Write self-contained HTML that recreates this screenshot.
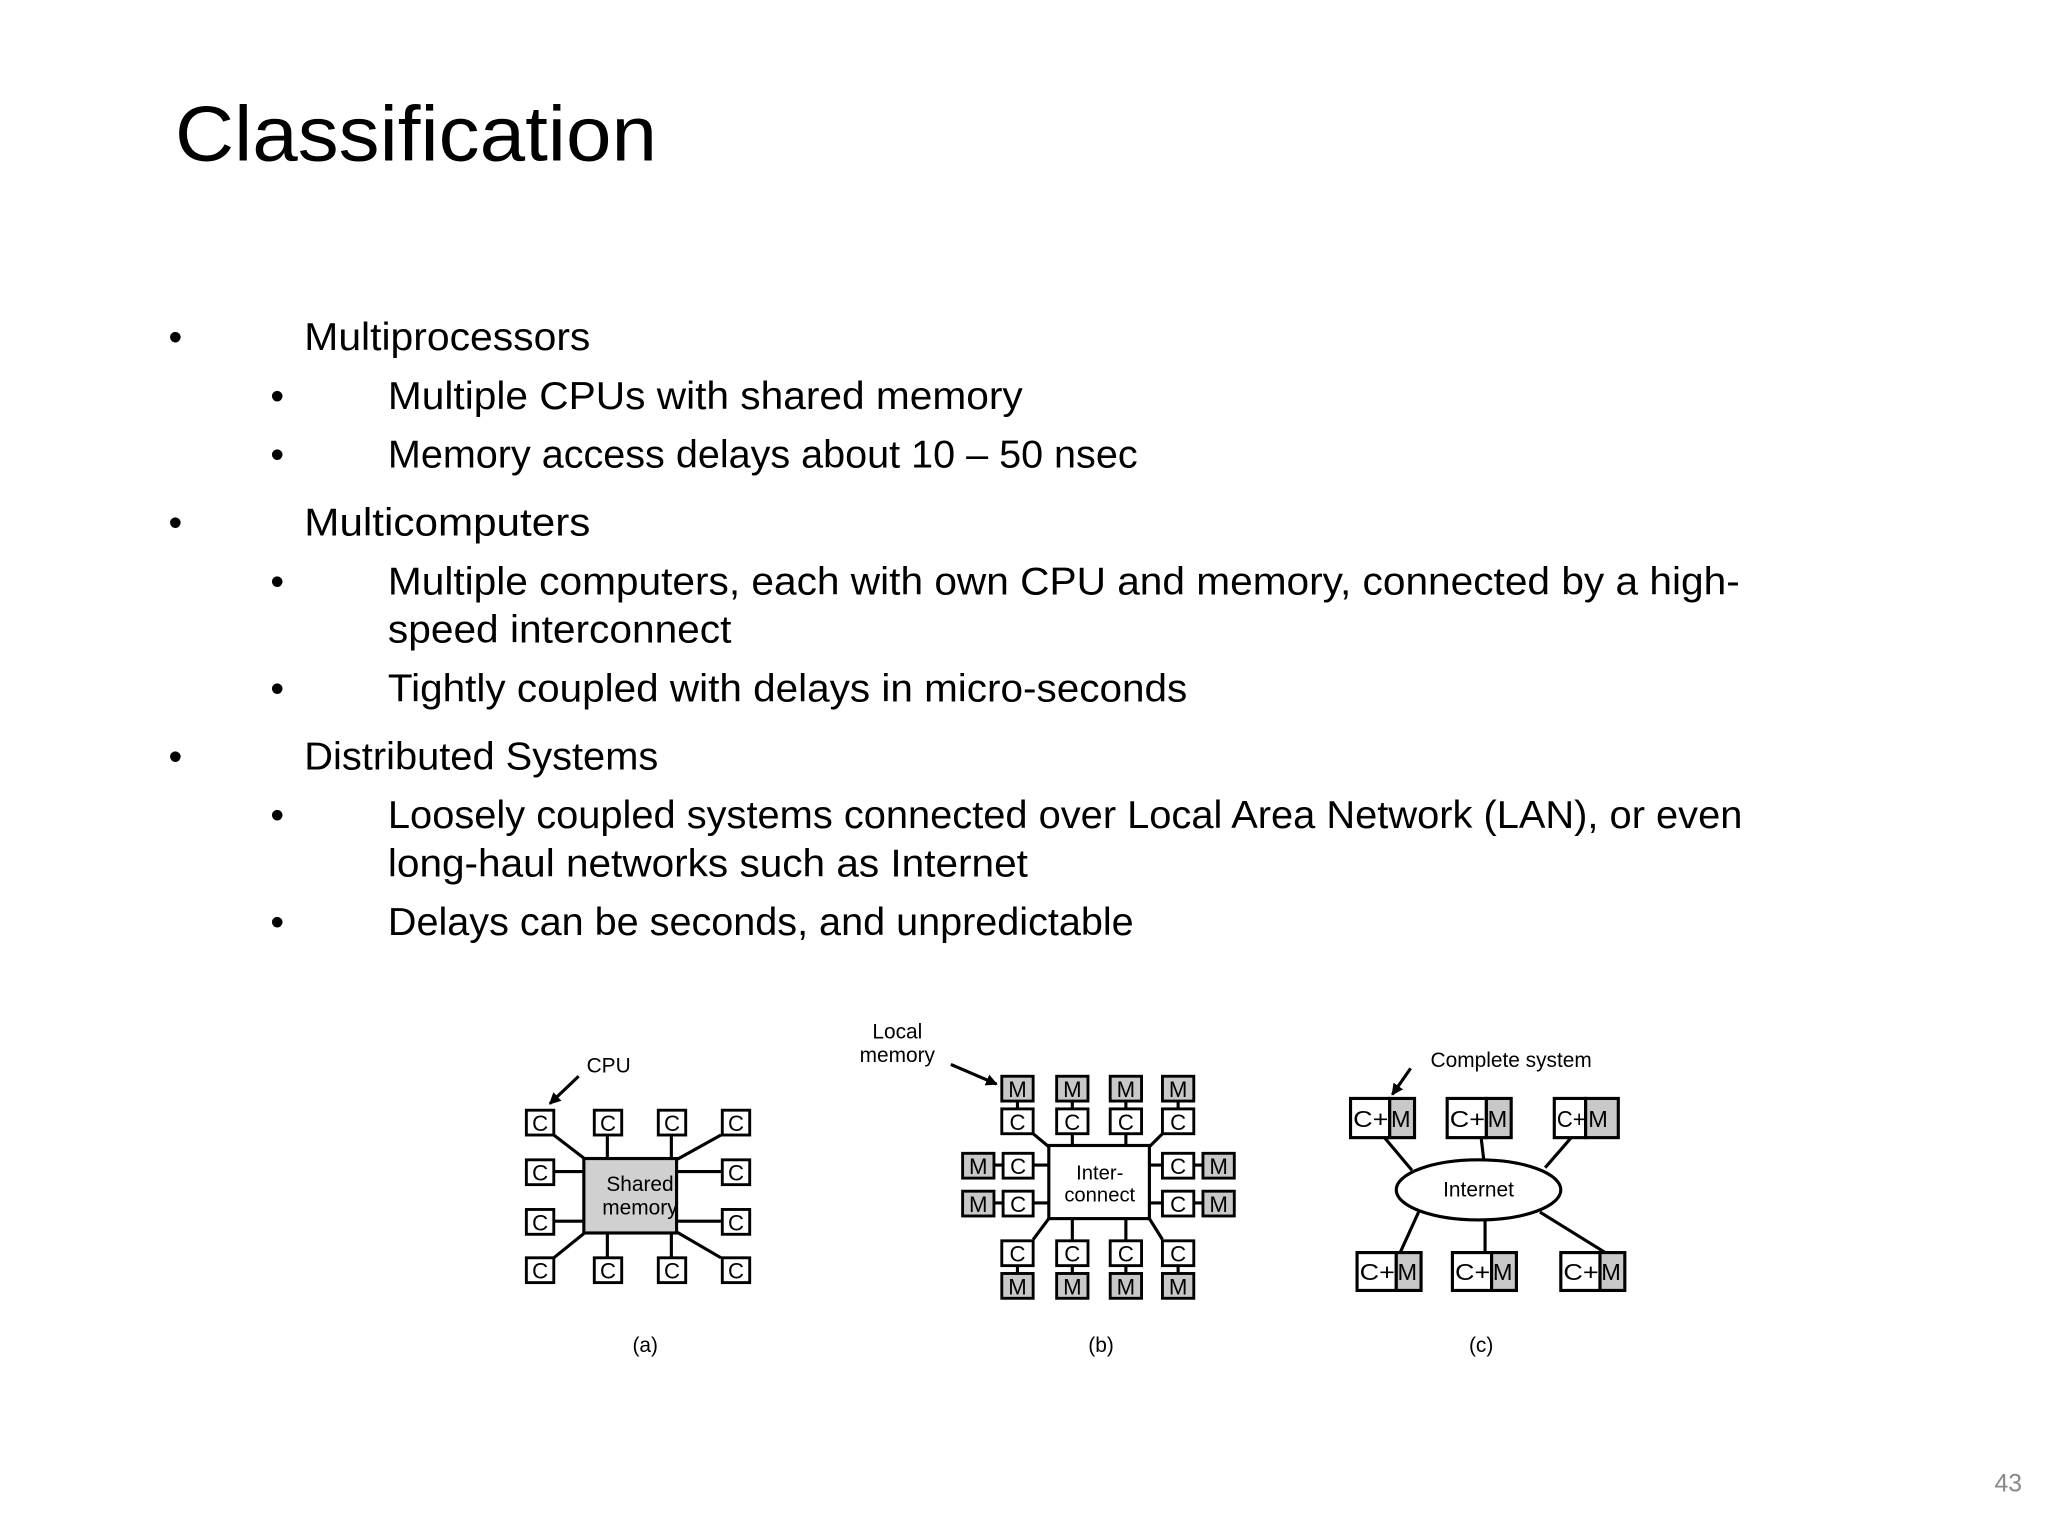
<!DOCTYPE html>
<html><head><meta charset="utf-8"><style>
html,body{margin:0;padding:0;background:#fff;}
svg{display:block;}
text{font-family:"Liberation Sans",sans-serif;}
</style></head><body>
<svg width="2048" height="1536" viewBox="0 0 1568 1176" xmlns="http://www.w3.org/2000/svg">
<rect width="1568" height="1176" fill="#fff"/>
<text x="134" y="123" font-size="60" textLength="369" lengthAdjust="spacingAndGlyphs" fill="#000">Classification</text>
<g font-size="30" fill="#000">
<text x="129" y="268">•</text><text x="233" y="268" textLength="219" lengthAdjust="spacingAndGlyphs">Multiprocessors</text>
<text x="207" y="313">•</text><text x="297" y="313" textLength="486" lengthAdjust="spacingAndGlyphs">Multiple CPUs with shared memory</text>
<text x="207" y="358">•</text><text x="297" y="358" textLength="574" lengthAdjust="spacingAndGlyphs">Memory access delays about 10 – 50 nsec</text>
<text x="129" y="410">•</text><text x="233" y="410" textLength="219" lengthAdjust="spacingAndGlyphs">Multicomputers</text>
<text x="207" y="455">•</text><text x="297" y="455" textLength="1035" lengthAdjust="spacingAndGlyphs">Multiple computers, each with own CPU and memory, connected by a high-</text>
<text x="297" y="492" textLength="263" lengthAdjust="spacingAndGlyphs">speed interconnect</text>
<text x="207" y="537">•</text><text x="297" y="537" textLength="612" lengthAdjust="spacingAndGlyphs">Tightly coupled with delays in micro-seconds</text>
<text x="129" y="589">•</text><text x="233" y="589" textLength="271" lengthAdjust="spacingAndGlyphs">Distributed Systems</text>
<text x="207" y="634">•</text><text x="297" y="634" textLength="1037" lengthAdjust="spacingAndGlyphs">Loosely coupled systems connected over Local Area Network (LAN), or even</text>
<text x="297" y="671" textLength="490" lengthAdjust="spacingAndGlyphs">long-haul networks such as Internet</text>
<text x="207" y="716">•</text><text x="297" y="716" textLength="571" lengthAdjust="spacingAndGlyphs">Delays can be seconds, and unpredictable</text>
</g>
<text x="1527" y="1142" font-size="19" fill="#888">43</text>

<defs><marker id="ah" markerWidth="9" markerHeight="9" refX="8" refY="4.5" orient="auto" markerUnits="userSpaceOnUse"><path d="M0,0 L9,4.5 L0,9 Z" fill="#000"/></marker></defs>

<!-- (a) -->
<g stroke="#000" stroke-width="2.4" fill="none">
<line x1="424" y1="869" x2="450" y2="889"/><line x1="465" y1="869" x2="465" y2="887"/><line x1="514" y1="869" x2="514" y2="887"/><line x1="552" y1="869" x2="516" y2="889"/>
<line x1="424" y1="897" x2="447" y2="897"/><line x1="424" y1="935" x2="447" y2="935"/>
<line x1="518" y1="897" x2="552" y2="897"/><line x1="518" y1="935" x2="552" y2="935"/>
<line x1="424" y1="963" x2="450" y2="942"/><line x1="465" y1="944" x2="465" y2="963"/><line x1="514" y1="944" x2="514" y2="963"/><line x1="552" y1="963" x2="516" y2="942"/>
<line x1="443" y1="824" x2="421" y2="845" marker-end="url(#ah)"/>
</g>
<rect x="447" y="887" width="71" height="57" fill="#d0d0d0" stroke="#000" stroke-width="2.4"/>
<g fill="#fff" stroke="#000" stroke-width="2.2">
<rect x="403" y="850" width="21" height="19"/><rect x="455" y="850" width="21" height="19"/><rect x="504" y="850" width="21" height="19"/><rect x="553" y="850" width="21" height="19"/>
<rect x="403" y="888" width="21" height="19"/><rect x="553" y="888" width="21" height="19"/>
<rect x="403" y="926" width="21" height="19"/><rect x="553" y="926" width="21" height="19"/>
<rect x="403" y="963" width="21" height="19"/><rect x="455" y="963" width="21" height="19"/><rect x="504" y="963" width="21" height="19"/><rect x="553" y="963" width="21" height="19"/>
</g>
<g font-size="17" text-anchor="middle" fill="#000">
<text x="413.5" y="866">C</text><text x="465.5" y="866">C</text><text x="514.5" y="866">C</text><text x="563.5" y="866">C</text>
<text x="413.5" y="904">C</text><text x="563.5" y="904">C</text><text x="413.5" y="942">C</text><text x="563.5" y="942">C</text>
<text x="413.5" y="979">C</text><text x="465.5" y="979">C</text><text x="514.5" y="979">C</text><text x="563.5" y="979">C</text>
<text x="490" y="912" font-size="16">Shared</text><text x="490" y="930" font-size="16">memory</text>
<text x="466" y="821" font-size="16">CPU</text>
<text x="494" y="1035" font-size="16">(a)</text>
</g>

<!-- (b) -->
<g stroke="#000" stroke-width="2.4" fill="none">
<line x1="779" y1="843" x2="779" y2="849"/><line x1="821" y1="843" x2="821" y2="849"/><line x1="862" y1="843" x2="862" y2="849"/><line x1="902" y1="843" x2="902" y2="849"/>
<line x1="779" y1="969" x2="779" y2="975"/><line x1="821" y1="969" x2="821" y2="975"/><line x1="862" y1="969" x2="862" y2="975"/><line x1="902" y1="969" x2="902" y2="975"/>
<line x1="791" y1="868" x2="803" y2="878"/><line x1="821" y1="868" x2="821" y2="877"/><line x1="862" y1="868" x2="862" y2="877"/><line x1="890" y1="868" x2="880" y2="878"/>
<line x1="791" y1="949" x2="803" y2="933"/><line x1="821" y1="933" x2="821" y2="949"/><line x1="862" y1="933" x2="862" y2="949"/><line x1="890" y1="949" x2="880" y2="933"/>
<line x1="761" y1="892" x2="768" y2="892"/><line x1="761" y1="921" x2="768" y2="921"/><line x1="791" y1="892" x2="803" y2="892"/><line x1="791" y1="921" x2="803" y2="921"/>
<line x1="880" y1="892" x2="890" y2="892"/><line x1="880" y1="921" x2="890" y2="921"/><line x1="914" y1="892" x2="921" y2="892"/><line x1="914" y1="921" x2="921" y2="921"/>
<line x1="728" y1="815" x2="763" y2="830" marker-end="url(#ah)"/>
</g>
<rect x="803" y="877" width="77" height="56" fill="#fff" stroke="#000" stroke-width="2.4"/>
<g fill="#c8c8c8" stroke="#000" stroke-width="2.2">
<rect x="767" y="824" width="24" height="19"/><rect x="809" y="824" width="24" height="19"/><rect x="850" y="824" width="24" height="19"/><rect x="890" y="824" width="24" height="19"/>
<rect x="767" y="975" width="24" height="19"/><rect x="809" y="975" width="24" height="19"/><rect x="850" y="975" width="24" height="19"/><rect x="890" y="975" width="24" height="19"/>
<rect x="737" y="883" width="24" height="19"/><rect x="737" y="912" width="24" height="19"/><rect x="921" y="883" width="24" height="19"/><rect x="921" y="912" width="24" height="19"/>
</g>
<g fill="#fff" stroke="#000" stroke-width="2.2">
<rect x="767" y="849" width="24" height="19"/><rect x="809" y="849" width="24" height="19"/><rect x="850" y="849" width="24" height="19"/><rect x="890" y="849" width="24" height="19"/>
<rect x="767" y="950" width="24" height="19"/><rect x="809" y="950" width="24" height="19"/><rect x="850" y="950" width="24" height="19"/><rect x="890" y="950" width="24" height="19"/>
<rect x="768" y="883" width="23" height="19"/><rect x="768" y="912" width="23" height="19"/><rect x="890" y="883" width="24" height="19"/><rect x="890" y="912" width="24" height="19"/>
</g>
<g font-size="17" text-anchor="middle" fill="#000">
<text x="779" y="840">M</text><text x="821" y="840">M</text><text x="862" y="840">M</text><text x="902" y="840">M</text>
<text x="779" y="865">C</text><text x="821" y="865">C</text><text x="862" y="865">C</text><text x="902" y="865">C</text>
<text x="779" y="966">C</text><text x="821" y="966">C</text><text x="862" y="966">C</text><text x="902" y="966">C</text>
<text x="779" y="991">M</text><text x="821" y="991">M</text><text x="862" y="991">M</text><text x="902" y="991">M</text>
<text x="749" y="899">M</text><text x="749" y="928">M</text><text x="779.5" y="899">C</text><text x="779.5" y="928">C</text>
<text x="902" y="899">C</text><text x="902" y="928">C</text><text x="933" y="899">M</text><text x="933" y="928">M</text>
<text x="842" y="903" font-size="15.5">Inter-</text><text x="842" y="920" font-size="15.5">connect</text>
<text x="687" y="795" font-size="16">Local</text><text x="687" y="813" font-size="16">memory</text>
<text x="843" y="1035" font-size="16">(b)</text>
</g>

<!-- (c) -->
<g stroke="#000" stroke-width="2.4" fill="none">
<line x1="1060" y1="871" x2="1081" y2="896"/><line x1="1134" y1="871" x2="1136" y2="888"/><line x1="1203" y1="871" x2="1183" y2="894"/>
<line x1="1087" y1="926" x2="1072" y2="959"/><line x1="1137" y1="934" x2="1137" y2="959"/><line x1="1179" y1="928" x2="1229" y2="959"/>
<line x1="1080" y1="818" x2="1066" y2="838" marker-end="url(#ah)"/>
</g>
<ellipse cx="1132" cy="911" rx="63" ry="23" fill="#fff" stroke="#000" stroke-width="2.4"/>
<g stroke="#000" stroke-width="2.4">
<rect x="1034" y="841" width="30" height="30" fill="#fff"/><rect x="1064" y="841" width="19" height="30" fill="#c8c8c8"/>
<rect x="1108" y="841" width="30" height="30" fill="#fff"/><rect x="1138" y="841" width="19" height="30" fill="#c8c8c8"/>
<rect x="1190" y="841" width="24" height="30" fill="#fff"/><rect x="1214" y="841" width="25" height="30" fill="#c8c8c8"/>
<rect x="1039" y="959" width="30" height="29" fill="#fff"/><rect x="1069" y="959" width="19" height="29" fill="#c8c8c8"/>
<rect x="1112" y="959" width="30" height="29" fill="#fff"/><rect x="1142" y="959" width="19" height="29" fill="#c8c8c8"/>
<rect x="1195" y="959" width="30" height="29" fill="#fff"/><rect x="1225" y="959" width="19" height="29" fill="#c8c8c8"/>
</g>
<g font-size="18" fill="#000">
<text x="1036" y="863" textLength="27" lengthAdjust="spacingAndGlyphs">C+</text><text x="1065" y="863">M</text>
<text x="1110" y="863" textLength="27" lengthAdjust="spacingAndGlyphs">C+</text><text x="1139" y="863">M</text>
<text x="1192" y="863" textLength="22" lengthAdjust="spacingAndGlyphs">C+</text><text x="1216" y="863">M</text>
<text x="1041" y="980" textLength="27" lengthAdjust="spacingAndGlyphs">C+</text><text x="1070" y="980">M</text>
<text x="1114" y="980" textLength="27" lengthAdjust="spacingAndGlyphs">C+</text><text x="1143" y="980">M</text>
<text x="1197" y="980" textLength="27" lengthAdjust="spacingAndGlyphs">C+</text><text x="1226" y="980">M</text>
<text x="1132" y="916" text-anchor="middle" font-size="16">Internet</text>
<text x="1157" y="817" text-anchor="middle" font-size="16">Complete system</text>
<text x="1134" y="1035" text-anchor="middle" font-size="16">(c)</text>
</g>
</svg>
</body></html>
